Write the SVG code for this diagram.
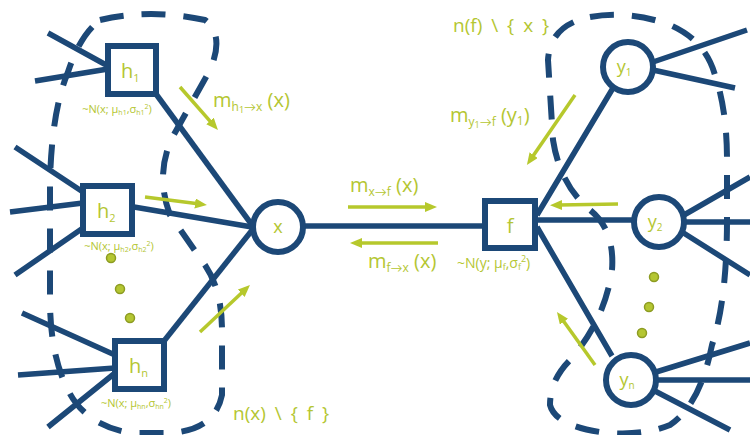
<svg xmlns="http://www.w3.org/2000/svg" width="750" height="435" viewBox="0 0 750 435">
<defs>
<style>
.edge{stroke:#1c4877;stroke-width:5.5;fill:none;stroke-linecap:butt}
.node{stroke:#1c4877;stroke-width:6;fill:#fff}
.dash{stroke:#1c4877;stroke-width:6;fill:none;stroke-dasharray:24 18}
.msg{stroke:#b6c82c;stroke-width:3.5;fill:none;marker-end:url(#ah)}
.lbl{font-family:"Open Sans",Lato,"Liberation Sans",sans-serif;fill:#b4c632}
.dot{fill:#b4c632;stroke:#8d9c22;stroke-width:1.5}
</style>
<marker id="ah" markerUnits="userSpaceOnUse" markerWidth="13" markerHeight="11" refX="3" refY="5" orient="auto">
<path d="M0,0 L12,5 L0,10 z" fill="#b6c82c"/>
</marker>
</defs>
<rect width="750" height="435" fill="#fff"/>

<g id="scopes">
<path class="dash" d="M100,20 Q150,8 205,20 Q225,35 210,70 L172,138 Q155,175 170,215 L205,265 Q222,290 222,330 L222,395 Q215,430 170,433 L130,433 Q85,425 68,390 Q50,355 50,300 L50,180 Q52,110 68,72 Q80,35 100,20 Z"/>
<path class="dash" d="M590,17 Q630,10 670,25 Q705,40 715,75 Q727,110 727,160 L727,220 Q727,300 712,345 Q700,405 670,425 Q640,437 600,432 Q555,425 550,405 Q550,380 570,360 Q605,320 612,270 Q615,230 590,210 Q560,185 553,140 L548,60 Q550,25 590,17 Z"/>
</g>

<g id="connectors">
<path class="edge" d="M48,33 L108,66 M35,81 L108,69"/>
<path class="edge" d="M156,94 L252,225"/>
<path class="edge" d="M15,147 L83,192 M10,212 L83,203 M15,275 L83,228"/>
<path class="edge" d="M134,207 L252,227"/>
<path class="edge" d="M22,313 L115,355 M18,375 L115,368 M48,427 L115,373"/>
<path class="edge" d="M164,341 L253,229"/>
<path class="edge" d="M303,226 L485,226"/>
<path class="edge" d="M537,215 L613,88 M537,220 L634,220 M537,227 L612,356"/>
<path class="edge" d="M653,62 L747,30 M653,70 L735,88"/>
<path class="edge" d="M684,215 L750,177 M684,222 L750,222 M682,232 L750,275"/>
<path class="edge" d="M656,372 L750,343 M656,380 L750,380 M653,390 L730,430"/>
</g>

<g id="messages">
<path class="msg" d="M180,87 L212,123.3"/>
<path class="msg" d="M145,197 L198,203.8"/>
<path class="msg" d="M200,332 L243.4,291.2"/>
<path class="msg" d="M348,207 L428,207"/>
<path class="msg" d="M438,243 L359,243"/>
<path class="msg" d="M575,95 L532,157.6"/>
<path class="msg" d="M618,204 L559,205"/>
<path class="msg" d="M595,365 L562.2,319.3"/>
</g>

<g id="h1">
<rect class="node" x="108" y="46" width="48" height="48"/>
<text class="lbl" x="121" y="78" font-size="20">h<tspan font-size="11" dy="4">1</tspan></text>
<text class="lbl" x="117" y="113" font-size="11" text-anchor="middle">~N(x; μ<tspan font-size="7" dy="2">h1</tspan><tspan dy="-2">,σ</tspan><tspan font-size="7" dy="2">h1</tspan><tspan font-size="7" dy="-6">2</tspan><tspan dy="4">)</tspan></text>
</g>
<g id="h2">
<rect class="node" x="83" y="186" width="49" height="48"/>
<text class="lbl" x="97" y="218" font-size="20">h<tspan font-size="11" dy="4">2</tspan></text>
<text class="lbl" x="119" y="250" font-size="11" text-anchor="middle">~N(x; μ<tspan font-size="7" dy="2">h2</tspan><tspan dy="-2">,σ</tspan><tspan font-size="7" dy="2">h2</tspan><tspan font-size="7" dy="-6">2</tspan><tspan dy="4">)</tspan></text>
</g>
<g id="hn">
<rect class="node" x="115" y="341" width="49" height="48"/>
<text class="lbl" x="129" y="373" font-size="20">h<tspan font-size="11" dy="4">n</tspan></text>
<text class="lbl" x="136" y="407" font-size="11" text-anchor="middle">~N(x; μ<tspan font-size="7" dy="2">hn</tspan><tspan dy="-2">,σ</tspan><tspan font-size="7" dy="2">hn</tspan><tspan font-size="7" dy="-6">2</tspan><tspan dy="4">)</tspan></text>
</g>
<g id="x">
<circle class="node" cx="278" cy="227" r="25"/>
<text class="lbl" x="278" y="233" font-size="18" text-anchor="middle">x</text>
</g>
<g id="f">
<rect class="node" x="485" y="201" width="50" height="47"/>
<text class="lbl" x="510" y="233" font-size="20" text-anchor="middle">f</text>
<text class="lbl" x="457" y="268" font-size="14">~N(y; μ<tspan font-size="9" dy="2">f</tspan><tspan dy="-2">,σ</tspan><tspan font-size="9" dy="2">f</tspan><tspan font-size="9" dy="-8">2</tspan><tspan dy="6">)</tspan></text>
</g>
<g id="y1">
<circle class="node" cx="628" cy="67" r="25"/>
<text class="lbl" x="624" y="73" font-size="18" text-anchor="middle">y<tspan font-size="10" dy="3">1</tspan></text>
</g>
<g id="y2">
<circle class="node" cx="659" cy="222" r="25"/>
<text class="lbl" x="655" y="228" font-size="18" text-anchor="middle">y<tspan font-size="10" dy="3">2</tspan></text>
</g>
<g id="yn">
<circle class="node" cx="631" cy="380" r="25"/>
<text class="lbl" x="627" y="386" font-size="18" text-anchor="middle">y<tspan font-size="10" dy="3">n</tspan></text>
</g>

<g id="dots">
<circle class="dot" cx="111" cy="258" r="4.5"/>
<circle class="dot" cx="120" cy="289" r="4.5"/>
<circle class="dot" cx="130" cy="318" r="4.5"/>
<circle class="dot" cx="654" cy="277" r="4.5"/>
<circle class="dot" cx="649" cy="307" r="4.5"/>
<circle class="dot" cx="642" cy="333" r="4.5"/>
</g>

<g id="labels">
<text class="lbl" x="213" y="107" font-size="20">m<tspan font-size="12" dy="4">h</tspan><tspan font-size="9" dy="2">1</tspan><tspan font-size="12" dy="-2">→x</tspan><tspan dy="-4"> (x)</tspan></text>
<text class="lbl" x="350" y="192" font-size="20">m<tspan font-size="12" dy="4">x→f</tspan><tspan dy="-4"> (x)</tspan></text>
<text class="lbl" x="368" y="268" font-size="20">m<tspan font-size="12" dy="4">f→x</tspan><tspan dy="-4"> (x)</tspan></text>
<text class="lbl" x="450" y="122" font-size="20">m<tspan font-size="12" dy="4">y</tspan><tspan font-size="9" dy="2">1</tspan><tspan font-size="12" dy="-2">→f</tspan><tspan dy="-4"> (y</tspan><tspan font-size="12" dy="3">1</tspan><tspan dy="-3">)</tspan></text>
<text class="lbl" x="453" y="32" font-size="19" word-spacing="4">n(f) \ { x }</text>
<text class="lbl" x="233" y="420" font-size="19" word-spacing="4">n(x) \ { f }</text>
</g>
</svg>
